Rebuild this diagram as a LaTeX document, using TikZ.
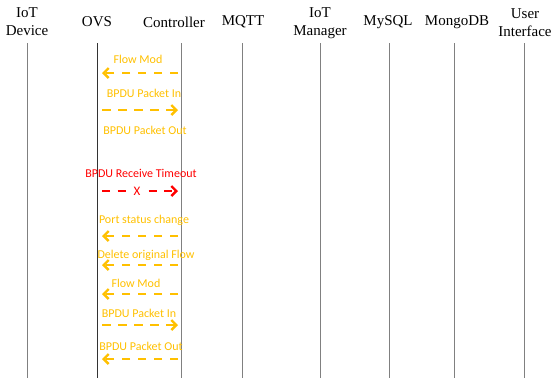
\documentclass[tikz,border=0pt]{standalone}
\usepackage{fontspec}
\setmainfont{Liberation Serif}
\newfontfamily\labelfont{Carlito}
\usetikzlibrary{arrows.meta}
\definecolor{msgorange}{HTML}{FFC000}
\definecolor{msgred}{HTML}{FF0000}
\begin{document}
\begin{tikzpicture}[x=1pt,y=-1pt,
  actor/.style={font=\fontsize{15}{18}\selectfont, align=center, inner sep=0pt},
  lifeline/.style={line width=1pt, draw=gray},
  msg/.style={draw=msgorange, line width=2.6pt, dash pattern=on 8.5pt off 7.5pt,
    -{Straight Barb[length=5pt,width=10pt,line width=2.4pt]}},
  redmsg/.style={msg, draw=msgred, dash pattern=on 8pt off 7.5pt},
  msglabel/.style={font=\labelfont\fontsize{12}{14}\selectfont, text=msgorange, inner sep=0pt},
  redlabel/.style={msglabel, text=msgred}]
\useasboundingbox (0,0) rectangle (552,378);

% participants
\node[actor] (dev)  at (27,22)  {IoT\\Device};
\node[actor] (ovs)  at (97,22)  {OVS};
\node[actor] (ctl)  at (174,22) {Controller};
\node[actor] (mqtt) at (243,22) {MQTT};
\node[actor] (mgr)  at (320,23) {IoT\\Manager};
\node[actor] (sql)  at (388,22) {MySQL};
\node[actor] (mdb)  at (457,22) {MongoDB};
\node[actor] (ui)   at (525,23) {User\\Interface};

% lifelines
\foreach \n/\x in {dev/27, ovs/97, ctl/181, mqtt/242, mgr/320, sql/389, mdb/454, ui/524} {
  \coordinate (\n-top) at (\x,43);
  \coordinate (\n-bot) at (\x,378);
}
\foreach \n in {dev, ctl, mqtt, mgr, sql, mdb, ui}
  \draw[lifeline] (\n-top) -- (\n-bot);
\draw[lifeline, draw=black!80, line width=0.8pt] (ovs-top) -- (ovs-bot);

% message end points between OVS and Controller
\foreach \i/\y in {1/73, 2/110, 4/191, 5/236, 6/265, 7/294, 8/325, 9/359} {
  \coordinate (o\i) at (102,\y);
  \coordinate (c\i) at (178,\y);
}

% messages
\node[msglabel] (l1) at (138,59) {Flow Mod};
\draw[msg] (c1) -- (o1);

\node[msglabel] (l2) at (144,93) {BPDU Packet In};
\draw[msg] (o2) -- (c2);

\node[msglabel] (l3) at (145,130) {BPDU Packet Out};

\node[redlabel] (l4) at (141,173) {BPDU Receive Timeout};
\draw[redmsg] (o4) -- (c4);
\node[font=\labelfont\fontsize{13}{15}\selectfont, text=msgred, fill=white, inner xsep=2pt, inner ysep=1pt] (x4) at (137,191) {X};

\node[msglabel] (l5) at (144,220) {Port status change};
\draw[msg] (c5) -- (o5);

\node[msglabel] (l6) at (146,255) {Delete original Flow};
\draw[msg] (c6) -- (o6);

\node[msglabel] (l7) at (136,283) {Flow Mod};
\draw[msg] (c7) -- (o7);

\node[msglabel] (l8) at (139,313) {BPDU Packet In};
\draw[msg] (o8) -- (c8);

\node[msglabel] (l9) at (141,346) {BPDU Packet Out};
\draw[msg] (c9) -- (o9);
\end{tikzpicture}
\end{document}
